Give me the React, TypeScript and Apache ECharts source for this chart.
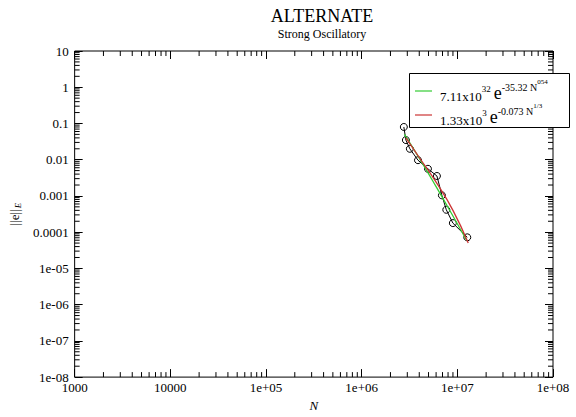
import React, { useEffect, useRef } from "react";
import * as echarts from "echarts";

const FONT = "Liberation Serif, DejaVu Serif, serif";

// measured data (N, ||e||_E)
const dataN = [2.76e6, 2.9e6, 3.19e6, 3.88e6, 4.93e6, 6.12e6, 6.9e6, 7.67e6, 8.98e6, 1.27e7];
const dataErr = [0.08, 0.0348, 0.02, 0.0097, 0.0056, 0.00355, 0.00104, 0.000415, 0.000178, 7.2e-5];

// fit curves
const greenN = [2.8e6, 4.0e6, 6.0e6, 9.0e6, 1.25e7];
const greenErr = [0.05, 0.011, 0.0018, 0.00028, 6e-5];
const redN = [2.9e6, 4.0e6, 6.0e6, 9.0e6, 1.3e7];
const redErr = [0.04, 0.0115, 0.0024, 0.0004, 5e-5];

const xTickLabels = ["1000", "10000", "1e+05", "1e+06", "1e+07", "1e+08"];
const yTickLabels = ["1e-08", "1e-07", "1e-06", "1e-05", "0.0001", "0.001", "0.01", "0.1", "1", "10"];
const X_MIN = 1e3, X_MAX = 1e8, Y_MIN = 1e-8, Y_MAX = 10;

const GREEN = "#33cc33";
const RED = "#cc3333";
const legendGreen = "{b|7.11x10}{s|32}{e|e}{n|-35.32 N}{t|054}";
const legendRed = "{b|1.33x10}{s|3}{e|e}{n|-0.073 N}{t|1/3}";

function minorTicks(min: number, max: number): number[] {
  const out: number[] = [];
  for (let d = min; d < max; d *= 10) {
    for (let k = 2; k <= 9; k++) out.push(d * k);
  }
  return out;
}

export default function App() {
  const ref = useRef<HTMLDivElement>(null);
  useEffect(() => {
    if (!ref.current) return;
    const chart = echarts.init(ref.current, null, { renderer: "svg" });
    const xMinor = minorTicks(X_MIN, X_MAX).map((v) => [v, 1]);
    const yMinor = minorTicks(Y_MIN, Y_MAX).map((v) => [1e4, v]);
    const MINOR = 5;
    const MAJOR = 8;
    const tickStyle = { stroke: "#000", lineWidth: 1 };
    const xLabel = (v: number) => xTickLabels[Math.round(Math.log10(v)) - 3] ?? "";
    const yLabel = (v: number) => yTickLabels[Math.round(Math.log10(v)) + 8] ?? "";
    const axisCommon = {
      type: "log" as const,
      logBase: 10,
      axisLine: { show: false },
      splitLine: { show: false },
      minorTick: { show: false },
      minorSplitLine: { show: false },
      axisTick: { show: true, inside: true, length: MAJOR, lineStyle: { color: "#000", width: 1 } },
    };
    const rich = {
      b: { fontFamily: FONT, fontSize: 13, lineHeight: 14, color: "#000" },
      s: { fontFamily: FONT, fontSize: 9, lineHeight: 10, padding: [0, 0, 14, 0], color: "#000" },
      e: { fontFamily: FONT, fontSize: 18, lineHeight: 16, padding: [0, 0, 6, 3], color: "#000" },
      n: { fontFamily: FONT, fontSize: 10, lineHeight: 10, padding: [0, 0, 17, 0], color: "#000" },
      t: { fontFamily: FONT, fontSize: 7, lineHeight: 8, padding: [0, 0, 28, 0], color: "#000" },
    };
    chart.setOption({
      animation: false,
      backgroundColor: "#fff",
      title: {
        text: "ALTERNATE",
        subtext: "Strong Oscillatory",
        left: 317,
        textAlign: "center",
        top: 2,
        itemGap: 3,
        textStyle: { fontFamily: FONT, fontSize: 18, fontWeight: "normal", color: "#000" },
        subtextStyle: { fontFamily: FONT, fontSize: 12, color: "#000" },
      },
      grid: {
        left: 73,
        top: 51,
        right: 23,
        bottom: 34,
        show: true,
        borderColor: "#000",
        borderWidth: 1,
        backgroundColor: "transparent",
      },
      graphic: [
        {
          type: "rect",
          z: 100,
          shape: { x: 409.5, y: 73.5, width: 160, height: 54 },
          style: { fill: "#fff", stroke: "#000", lineWidth: 1 },
        },
        {
          type: "line",
          z: 101,
          shape: { x1: 415, y1: 91, x2: 432, y2: 91 },
          style: { stroke: GREEN, lineWidth: 1.2 },
        },
        {
          type: "line",
          z: 101,
          shape: { x1: 415, y1: 115, x2: 432, y2: 115 },
          style: { stroke: RED, lineWidth: 1.2 },
        },
        {
          type: "text",
          z: 101,
          x: 440,
          y: 96,
          style: { text: legendGreen, rich, fill: "#000", fontFamily: FONT, fontSize: 13, verticalAlign: "middle", align: "left" },
        },
        {
          type: "text",
          z: 101,
          x: 440,
          y: 120,
          style: { text: legendRed, rich, fill: "#000", fontFamily: FONT, fontSize: 13, verticalAlign: "middle", align: "left" },
        },
      ],
      xAxis: [
        {
          ...axisCommon,
          position: "bottom",
          min: X_MIN,
          max: X_MAX,
          name: "N",
          nameLocation: "middle",
          nameGap: 18,
          nameTextStyle: { fontFamily: FONT, fontSize: 13, fontStyle: "italic", color: "#000" },
          axisLabel: { fontFamily: FONT, fontSize: 13, color: "#000", margin: 4, formatter: xLabel, showMinLabel: true, showMaxLabel: true },
        },
        {
          ...axisCommon,
          position: "top",
          min: X_MIN,
          max: X_MAX,
          axisLabel: { show: false },
        },
      ],
      yAxis: [
        {
          ...axisCommon,
          position: "left",
          min: Y_MIN,
          max: Y_MAX,
          name: "||e||{sub|E}",
          nameLocation: "middle",
          nameGap: 50,
          nameRotate: 90,
          nameTextStyle: {
            fontFamily: FONT,
            fontSize: 13,
            color: "#000",
            rich: { sub: { fontFamily: FONT, fontSize: 9, fontStyle: "italic", padding: [6, 0, 0, 1] } },
          },
          axisLabel: { fontFamily: FONT, fontSize: 13, color: "#000", margin: 6, formatter: yLabel, showMinLabel: true, showMaxLabel: true },
        },
        {
          ...axisCommon,
          position: "right",
          min: Y_MIN,
          max: Y_MAX,
          axisLabel: { show: false },
        },
      ],
      series: [
        {
          type: "custom",
          silent: true,
          xAxisIndex: 0,
          yAxisIndex: 0,
          data: xMinor,
          renderItem: (params: any, api: any) => {
            const p = api.coord([api.value(0), api.value(1)]);
            const cs = params.coordSys;
            return {
              type: "group",
              children: [
                { type: "line", shape: { x1: p[0], y1: cs.y + cs.height, x2: p[0], y2: cs.y + cs.height - MINOR }, style: tickStyle },
                { type: "line", shape: { x1: p[0], y1: cs.y, x2: p[0], y2: cs.y + MINOR }, style: tickStyle },
              ],
            };
          },
        },
        {
          type: "custom",
          silent: true,
          xAxisIndex: 0,
          yAxisIndex: 0,
          data: yMinor,
          renderItem: (params: any, api: any) => {
            const p = api.coord([api.value(0), api.value(1)]);
            const cs = params.coordSys;
            return {
              type: "group",
              children: [
                { type: "line", shape: { x1: cs.x, y1: p[1], x2: cs.x + MINOR, y2: p[1] }, style: tickStyle },
                { type: "line", shape: { x1: cs.x + cs.width, y1: p[1], x2: cs.x + cs.width - MINOR, y2: p[1] }, style: tickStyle },
              ],
            };
          },
        },
        {
          name: "data",
          type: "line",
          data: dataN.map((n, i) => [n, dataErr[i]]),
          symbol: "circle",
          symbolSize: 7,
          showSymbol: true,
          lineStyle: { color: "#000", width: 1 },
          itemStyle: { color: "rgba(0,0,0,0)", borderColor: "#000", borderWidth: 1 },
          z: 2,
        },
        {
          name: "7.11x10^32 e^(-35.32 N^054)",
          type: "line",
          data: greenN.map((n, i) => [n, greenErr[i]]),
          showSymbol: false,
          symbol: "none",
          smooth: true,
          color: GREEN,
          lineStyle: { color: GREEN, width: 1.3 },
          z: 3,
        },
        {
          name: "1.33x10^3 e^(-0.073 N^1/3)",
          type: "line",
          data: redN.map((n, i) => [n, redErr[i]]),
          showSymbol: false,
          symbol: "none",
          smooth: true,
          color: RED,
          lineStyle: { color: RED, width: 1.3 },
          z: 3,
        },
      ],
    });
    return () => chart.dispose();
  }, []);
  return <div ref={ref} style={{ position: "fixed", left: 0, top: 0, width: 576, height: 417 }} />;
}
